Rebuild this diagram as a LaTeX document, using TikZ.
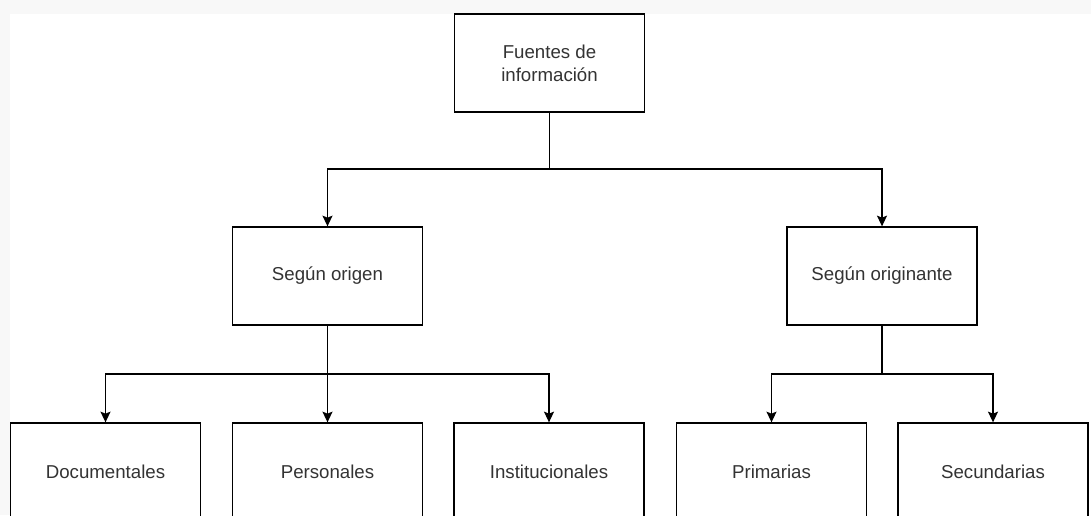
\documentclass[tikz,border=0pt]{standalone}
\usepackage{fontspec}
\setmainfont{Liberation Sans}
\usepackage{xcolor}
\usepackage{tikz}
\usetikzlibrary{arrows.meta}

\definecolor{pagegray}{HTML}{F8F8F8}
\definecolor{textgray}{HTML}{333333}

\tikzset{
    box/.style={draw, line width=1pt, fill=white, minimum width=142.5pt, minimum height=73.5pt,
        align=center, text=textgray, font=\fontsize{14}{17}\selectfont},
    link/.style={line width=1pt, -{Stealth[length=8pt,width=7.5pt,inset=1.5pt]}},
}

\begin{document}
\begin{tikzpicture}[x=0.75pt,y=-0.75pt]
    \clip (0,0) rectangle (1091,515);
    \fill[pagegray] (0,0) rectangle (1091,515);
    \fill[white] (10,14) rectangle (1091,515);

    % Level 1: root
    \node[box] (fuentes) at (549.5,63) {Fuentes de\\información};

    % Level 2: the two criteria
    \node[box] (origen) at (327.5,276) {Según origen};
    \node[box] (originante) at (882,276) {Según originante};

    % Level 3: the kinds of sources
    \node[box] (documentales) at (105.5,472) {Documentales};
    \node[box] (personales) at (327.5,472) {Personales};
    \node[box] (institucionales) at (549,472) {Institucionales};
    \node[box] (primarias) at (771.5,472) {Primarias};
    \node[box] (secundarias) at (993,472) {Secundarias};

    % junctions of the tree
    \coordinate (j1) at (549.5,169);
    \coordinate (j2) at (327.5,374);
    \coordinate (j3) at (882,374);

    \draw[link] (fuentes.south) -- (j1) -| (origen.north);
    \draw[link] (j1) -| (originante.north);

    \draw[link] (origen.south) -- (personales.north);
    \draw[link] (j2) -| (documentales.north);
    \draw[link] (j2) -| (institucionales.north);

    \draw[link] (originante.south) -- (j3) -| (primarias.north);
    \draw[link] (j3) -| (secundarias.north);
\end{tikzpicture}
\end{document}
